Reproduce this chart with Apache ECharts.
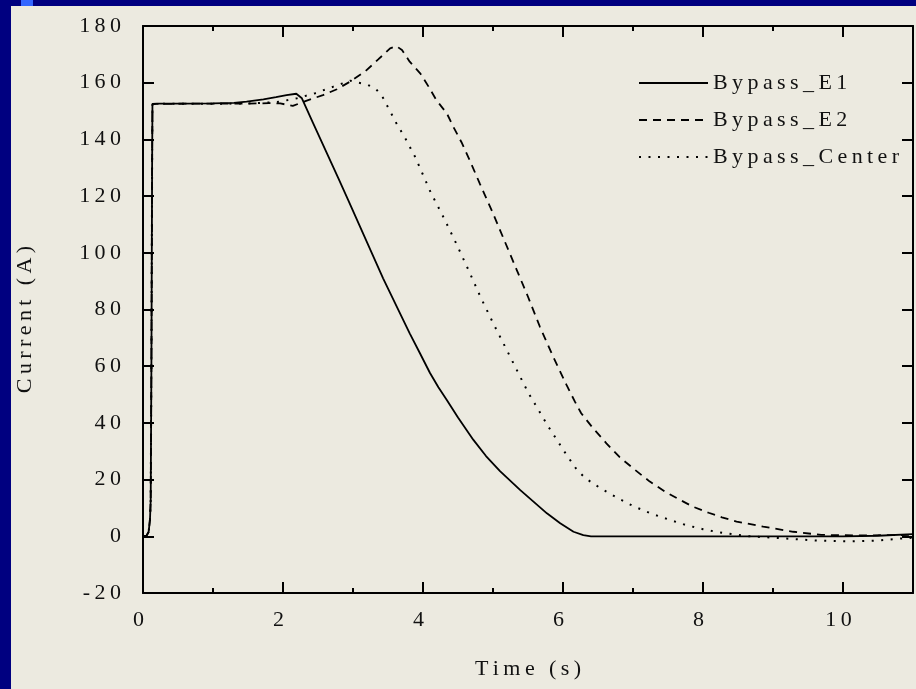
<!DOCTYPE html>
<html>
<head>
<meta charset="utf-8">
<script src="https://cdn.jsdelivr.net/npm/echarts@6/dist/echarts.min.js"></script>
<style>
html,body{margin:0;padding:0;background:#000080;}
#chart{width:916px;height:689px;}
</style>
</head>
<body>
<div id="chart"></div>
<script>
// ---- data ----
var e1Time = [0,0.05,0.08,0.10,0.11,0.12,0.13,0.135,0.2,0.6,1.0,1.3,1.48,1.72,1.9,2.05,2.19,2.27,2.43,2.79,2.93,3.43,3.81,3.96,4.1,4.22,4.34,4.5,4.72,4.9,5.1,5.39,5.77,5.96,6.15,6.29,6.4,8,10,10.5,11];
var e1Current = [0,0.2,1.5,6,12.8,60,130,152.5,152.6,152.6,152.7,152.9,153.3,154.1,154.9,155.6,156.1,154.5,145.7,126.3,118.7,91,71.6,64.4,57.6,52.6,48.1,41.9,34.0,28.3,23.0,16.3,8.1,4.6,1.6,0.4,0,0,0,0.2,0.8];

var e2Time = [0,0.05,0.08,0.10,0.11,0.12,0.13,0.135,0.6,1.2,1.5,1.8,1.96,2.14,2.34,2.57,2.77,2.96,3.17,3.36,3.53,3.62,3.70,3.81,3.96,4.08,4.19,4.34,4.43,4.55,4.65,4.81,5.0,5.17,5.34,5.5,5.67,5.86,6.05,6.17,6.26,6.43,6.62,6.81,7.03,7.24,7.46,7.66,7.86,8.08,8.27,8.48,8.86,9.29,9.69,10.2,10.6,11];
var e2Current = [0,0.2,1.5,6,12.8,60,130,152.5,152.6,152.6,152.6,152.8,152.7,151.8,153.7,155.6,157.7,160.4,163.9,168.2,172.1,172.9,171.5,167.4,163.3,158.6,153.9,149.2,144.6,139.0,133.6,124.5,113.9,103.9,93.9,84.5,73.9,63.3,53.4,47.5,43.4,38.1,32.8,27.9,23.4,19.3,15.7,13.0,10.4,8.3,6.7,5.2,3.4,1.6,0.5,0.3,0.4,0.5];

var cTime = [0,0.05,0.08,0.10,0.11,0.12,0.13,0.135,0.6,1.2,1.5,1.8,1.95,2.2,2.46,2.72,2.96,3.08,3.20,3.33,3.42,3.49,3.62,3.76,3.89,4.0,4.11,4.30,4.48,4.65,4.82,5.0,5.25,5.5,5.79,6.03,6.2,6.32,6.45,6.58,6.82,7.0,7.25,7.5,7.75,8.0,8.25,8.5,8.62,9.12,9.62,10.1,10.5,10.86,11];
var cCurrent = [0,0.2,1.5,6,12.8,60,130,152.5,152.6,152.6,152.7,153.0,153.3,154.5,156.3,158.6,160.7,160.0,159.4,157.7,155.1,151.8,145.7,139.8,133.7,127.5,121.3,112.2,103,93.9,84.5,75.3,63.1,50.8,38.7,29.5,23.4,20.5,18.3,16.3,13.0,10.7,8.1,6.0,4.0,2.5,1.3,0.5,0.1,-0.7,-1.5,-1.8,-1.5,-0.7,-0.5];

var seriesNames = ['Bypass_E1', 'Bypass_E2', 'Bypass_Center'];
var xTitle = 'Time (s)';
var yTitle = 'Current (A)';
var xMin = 0, xMax = 11, xMajor = 2, xMinor = 1;
var yMin = -20, yMax = 180, yStep = 20;

// ---- helpers ----
function zip(t, v) { return t.map(function (x, i) { return [x, v[i]]; }); }
function spaced(s) { return String(s).split('').join('\u2009'); }

var FONT = 'Liberation Serif';
var INK = '#111';
var frame = { color: '#000', width: 2 };

var chart = echarts.init(document.getElementById('chart'), null, { renderer: 'canvas' });

var option = {
  animation: false,
  backgroundColor: '#000080',
  graphic: [
    { type: 'rect', z: -100, shape: { x: 11, y: 6, width: 905, height: 683 }, style: { fill: '#ECEAE0' } },
    { type: 'rect', z: -100, shape: { x: 21, y: 0, width: 12, height: 6 }, style: { fill: '#3366FF' } }
  ],
  grid: { left: 143, right: 3, top: 26, bottom: 96 },
  legend: {
    orient: 'vertical',
    left: 638,
    top: 72,
    padding: 0,
    itemWidth: 69,
    itemHeight: 14,
    itemGap: 15,
    data: seriesNames,
    itemStyle: { opacity: 0 },
    formatter: function (n) { return spaced(n); },
    textStyle: { fontFamily: FONT, fontSize: 22, color: INK }
  },
  xAxis: [
    {
      type: 'value', min: xMin, max: xMax, interval: xMajor, position: 'bottom',
      axisLine: { show: true, onZero: false, lineStyle: frame },
      axisTick: { show: true, inside: true, length: 11, lineStyle: frame },
      axisLabel: {
        fontFamily: FONT, fontSize: 22, color: INK, margin: 16, padding: [0, 9, 0, 0],
        formatter: function (v) { return v > 10.5 ? '' : spaced(v); }
      },
      splitLine: { show: false },
      name: spaced(xTitle), nameLocation: 'middle', nameGap: 65,
      nameTextStyle: { fontFamily: FONT, fontSize: 22, color: INK }
    },
    {
      type: 'value', min: xMin, max: xMax, interval: xMinor, position: 'bottom',
      axisLine: { show: false, onZero: false },
      axisTick: { show: true, inside: true, length: 5, lineStyle: frame },
      axisLabel: { show: false }, splitLine: { show: false }
    },
    {
      type: 'value', min: xMin, max: xMax, interval: xMajor, position: 'top',
      axisLine: { show: true, onZero: false, lineStyle: frame },
      axisTick: { show: true, inside: true, length: 11, lineStyle: frame },
      axisLabel: { show: false }, splitLine: { show: false }
    },
    {
      type: 'value', min: xMin, max: xMax, interval: xMinor, position: 'top',
      axisLine: { show: false, onZero: false },
      axisTick: { show: true, inside: true, length: 5, lineStyle: frame },
      axisLabel: { show: false }, splitLine: { show: false }
    }
  ],
  yAxis: [
    {
      type: 'value', min: yMin, max: yMax, interval: yStep, position: 'left',
      axisLine: { show: true, onZero: false, lineStyle: frame },
      axisTick: { show: true, inside: true, length: 11, lineStyle: frame },
      axisLabel: {
        fontFamily: FONT, fontSize: 22, color: INK, margin: 22,
        formatter: function (v) { return spaced(v); }
      },
      splitLine: { show: false },
      name: spaced(yTitle), nameLocation: 'middle', nameGap: 107,
      nameTextStyle: { fontFamily: FONT, fontSize: 22, color: INK, padding: [0, 20, 0, 0] }
    },
    {
      type: 'value', min: yMin, max: yMax, interval: yStep, position: 'right',
      axisLine: { show: true, onZero: false, lineStyle: frame },
      axisTick: { show: true, inside: true, length: 11, lineStyle: frame },
      axisLabel: { show: false }, splitLine: { show: false }
    }
  ],
  series: [
    {
      name: seriesNames[0], type: 'line', xAxisIndex: 0, yAxisIndex: 0,
      data: zip(e1Time, e1Current), symbol: 'none', smooth: false,
      lineStyle: { color: '#000', width: 1.8, type: 'solid' }, itemStyle: { color: '#000' }
    },
    {
      name: seriesNames[1], type: 'line', xAxisIndex: 0, yAxisIndex: 0,
      data: zip(e2Time, e2Current), symbol: 'none', smooth: false,
      lineStyle: { color: '#000', width: 1.8, type: [8, 6] }, itemStyle: { color: '#000' }
    },
    {
      name: seriesNames[2], type: 'line', xAxisIndex: 0, yAxisIndex: 0,
      data: zip(cTime, cCurrent), symbol: 'none', smooth: false,
      lineStyle: { color: '#000', width: 2, type: [2, 7.5] }, itemStyle: { color: '#000' }
    }
  ]
};
chart.setOption(option);
</script>
</body>
</html>
